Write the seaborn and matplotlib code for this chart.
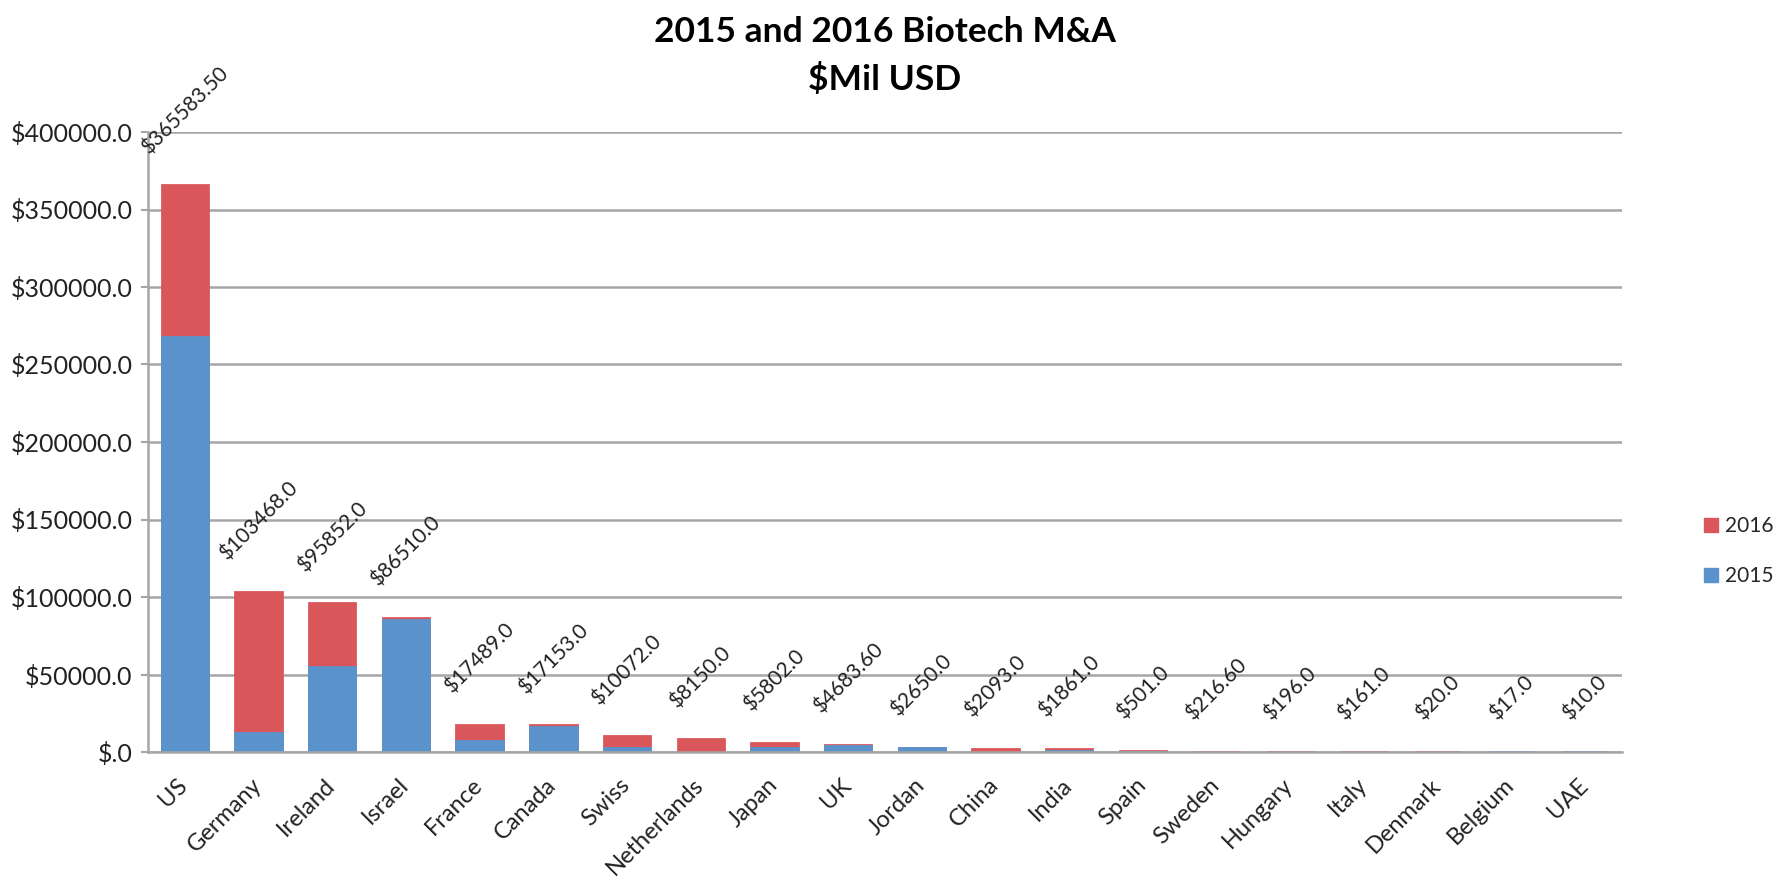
import matplotlib
matplotlib.use("Agg")
import matplotlib.pyplot as plt
import seaborn as sns
import numpy as np
import pandas as pd
from matplotlib.ticker import FuncFormatter, FixedLocator
from matplotlib.patches import Patch
from matplotlib.transforms import ScaledTranslation

countries = ["US", "Germany", "Ireland", "Israel", "France", "Canada", "Swiss",
             "Netherlands", "Japan", "UK", "Jordan", "China", "India", "Spain",
             "Sweden", "Hungary", "Italy", "Denmark", "Belgium", "UAE"]
totals = [365583.50, 103468.0, 95852.0, 86510.0, 17489.0, 17153.0, 10072.0,
          8150.0, 5802.0, 4683.60, 2650.0, 2093.0, 1861.0, 501.0,
          216.60, 196.0, 161.0, 20.0, 17.0, 10.0]
v2015 = [268000.0, 12200.0, 55000.0, 85000.0, 7000.0, 15900.0, 2500.0,
         0.0, 2800.0, 3700.0, 2650.0, 0.0, 800.0, 250.0,
         0.0, 0.0, 0.0, 0.0, 17.0, 10.0]
v2016 = [t - a for t, a in zip(totals, v2015)]
yticks = [0, 50000, 100000, 150000, 200000, 250000, 300000, 350000, 400000]

RED = "#D9575A"
BLUE = "#5A93CC"
FONT = ["Lato", "DejaVu Sans"]

sns.set_theme(style="white")
plt.rcParams["font.family"] = FONT

df = pd.DataFrame({"country": countries, "total": totals,
                   "y2015": [v if v > 0 else np.nan for v in v2015],
                   "y2016": v2016})

fig = plt.figure(figsize=(17.81, 8.84), dpi=100)
ax = fig.add_axes([148 / 1781, 1 - 752 / 884, (1622 - 148) / 1781, (752 - 132) / 884])

sns.barplot(data=df, x="country", y="total", color=RED, saturation=1, width=0.63,
            ax=ax, edgecolor=RED, linewidth=2.0)
sns.barplot(data=df, x="country", y="y2015", color=BLUE, saturation=1, width=0.63,
            ax=ax, edgecolor=BLUE, linewidth=2.0)

ax.set_ylim(0, 400000)
ax.set_xlim(-0.5, len(countries) - 0.5)
ax.yaxis.set_major_locator(FixedLocator(yticks))


def fmt(v, pos=None):
    if v == 0:
        return "$.0"
    return f"${v:.1f}"


ax.yaxis.set_major_formatter(FuncFormatter(fmt))
ax.grid(axis="y", color="#A6A6A6", linewidth=1.8)
ax.set_axisbelow(True)
for s in ["top", "right"]:
    ax.spines[s].set_visible(False)
for s in ["left", "bottom"]:
    ax.spines[s].set_color("#A6A6A6")
    ax.spines[s].set_linewidth(1.8)
ax.tick_params(axis="y", which="both", left=True, length=5, width=1.5, color="#A6A6A6",
               labelsize=18, pad=6, labelcolor="#222222")
ax.tick_params(axis="x", bottom=False, labelcolor="#222222", pad=10)
ax.set_xlabel("")
ax.set_ylabel("")
ax.set_xticks(range(len(countries)))
ax.set_xticklabels(countries, rotation=45, ha="right", va="top", rotation_mode="anchor")
shift = ScaledTranslation(-8 / 100, 0, fig.dpi_scale_trans)
for lbl in ax.get_xticklabels():
    lbl.set_fontsize(17)
    lbl.set_transform(lbl.get_transform() + shift)

for i, t in enumerate(totals):
    txt = f"${t:.2f}" if t != int(t) else f"${t:.1f}"
    ax.annotate(txt, xy=(i, t), xytext=(0, 20), textcoords="offset points",
                rotation=45, ha="center", va="bottom", fontsize=15, color="#222222",
                annotation_clip=False)

fig.text(885 / 1781, 1 - 32 / 884, "2015 and 2016 Biotech M&A", ha="center", va="center",
         fontsize=25.5, fontweight="bold", color="black")
fig.text(885 / 1781, 1 - 80 / 884, "$Mil USD", ha="center", va="center",
         fontsize=25.5, fontweight="bold", color="black")

handles = [Patch(facecolor=RED, edgecolor=RED, label="2016"),
           Patch(facecolor=BLUE, edgecolor=BLUE, label="2015")]
fig.legend(handles=handles, loc="center left", bbox_to_anchor=(1704 / 1781, 1 - 551 / 884),
           frameon=False, fontsize=15, handlelength=0.67, handleheight=0.67,
           handletextpad=0.35, labelspacing=1.45, borderpad=0, borderaxespad=0)

fig.savefig("out.png", dpi=100)
